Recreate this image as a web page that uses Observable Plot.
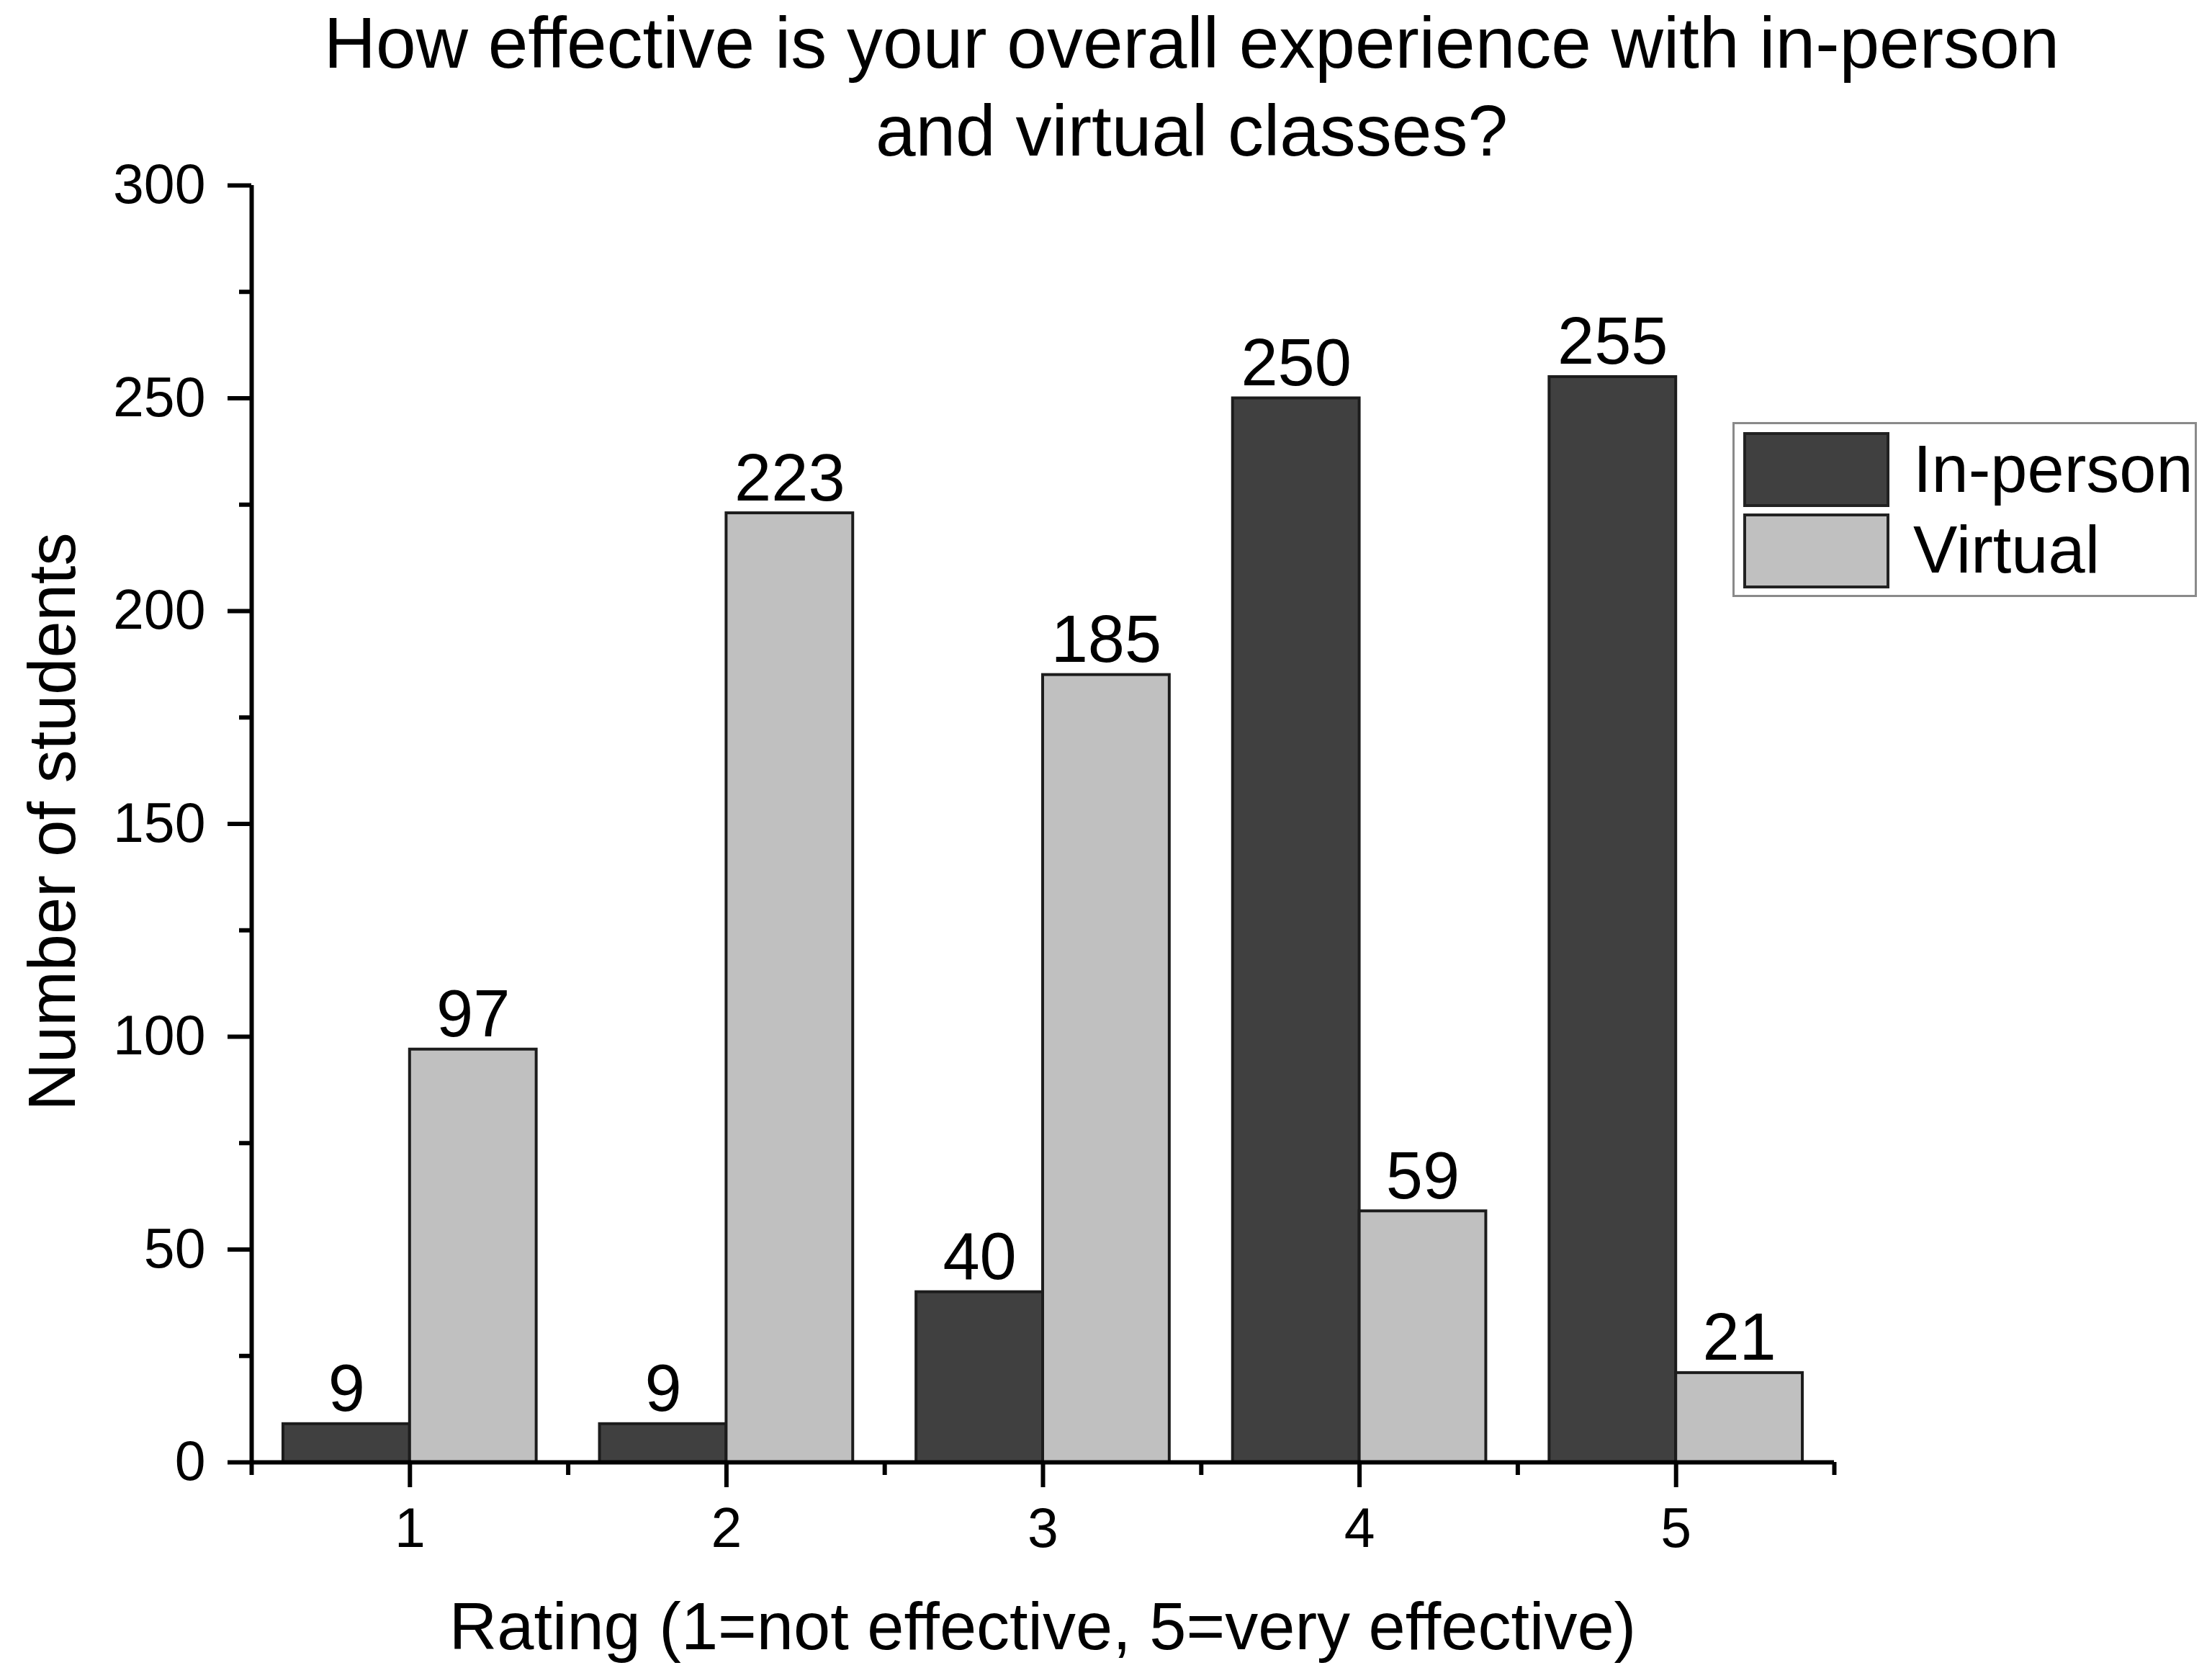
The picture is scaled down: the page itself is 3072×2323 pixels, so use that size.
<!DOCTYPE html>
<html>
<head>
<meta charset="utf-8">
<script src="https://cdn.jsdelivr.net/npm/d3@7"></script>
<script src="https://cdn.jsdelivr.net/npm/@observablehq/plot@0.6"></script>
<style>
  html, body { margin: 0; padding: 0; background: #fff; }
  #wrap { position: relative; width: 3072px; height: 2323px; font-family: "Liberation Sans", Arial, sans-serif; color: #000; overflow: hidden; }
  #wrap svg { position: absolute; left: 0; top: 0; }
  .title { position: absolute; left: 255px; top: -2px; width: 2800px; text-align: center; font-size: 100px; line-height: 122px; white-space: nowrap; }
  .xtitle { position: absolute; left: 48px; top: 2212px; width: 2800px; text-align: center; font-size: 92px; line-height: 92px; white-space: nowrap; }
  .ytitle { position: absolute; left: 72px; top: 1141px; width: 1200px; height: 92px; text-align: center; font-size: 92px; line-height: 92px; white-space: nowrap; transform: translate(-50%, -50%) rotate(-90deg); }
  .legend { position: absolute; left: 2406px; top: 586px; width: 639px; height: 237px; border: 3px solid #8a8a8a; background: #fff; }
  .legend .sw { position: absolute; left: 12px; width: 195px; height: 96px; border: 4px solid #222; }
  .legend .lb { position: absolute; left: 248px; font-size: 92px; line-height: 92px; white-space: nowrap; }
</style>
</head>
<body>
<div id="wrap"></div>
<script>
const titleLines = ["How effective is your overall experience with in-person", "and virtual classes?"];
const xTitle = "Rating (1=not effective, 5=very effective)";
const yTitle = "Number of students";
const ratings = [1, 2, 3, 4, 5];
const series = ["In-person", "Virtual"];
const inPerson = [9, 9, 40, 250, 255];
const virtual = [97, 223, 185, 59, 21];
const colors = ["#404040", "#c0c0c0"];
const yMajor = [0, 50, 100, 150, 200, 250, 300];
const yMinor = [25, 75, 125, 175, 225, 275];
const xMinor = [0.5, 1.5, 2.5, 3.5, 4.5, 5.5];
const xDomain = [0.5, 5.5];
const yDomain = [0, 300];
const barWidth = 0.4;

const rows = [];
ratings.forEach((r, i) => {
  rows.push({rating: r, series: series[0], value: inPerson[i], x1: r - barWidth, x2: r});
  rows.push({rating: r, series: series[1], value: virtual[i], x1: r, x2: r + barWidth});
});

const W = 3072, H = 2323;
const chart = Plot.plot({
  width: W,
  height: H,
  marginLeft: 349,
  marginRight: 525,
  marginTop: 257,
  marginBottom: 293,
  style: {fontFamily: '"Liberation Sans", Arial, sans-serif', background: "transparent", overflow: "visible", color: "#000"},
  x: {type: "linear", domain: xDomain},
  y: {domain: yDomain},
  color: {domain: series, range: colors},
  marks: [
    Plot.rectY(rows, {x1: "x1", x2: "x2", y1: 0, y2: "value", fill: "series", stroke: "#1c1c1c", strokeWidth: 4, inset: 0}),
    Plot.text(rows, {x: d => (d.x1 + d.x2) / 2, y: "value", text: d => String(d.value), lineAnchor: "bottom", dy: -18, fontSize: 92, fill: "#000"}),
    Plot.axisY({ticks: yMajor, tickSize: 33, tickPadding: 31, fontSize: 77, strokeWidth: 6, label: null, tickFormat: d => String(d)}),
    Plot.axisY({ticks: yMinor, tickSize: 17, strokeWidth: 6, label: null, tickFormat: () => ""}),
    Plot.axisX({ticks: ratings, tickSize: 35, tickPadding: 28, fontSize: 77, strokeWidth: 6, label: null, tickFormat: d => String(d)}),
    Plot.axisX({ticks: xMinor, tickSize: 18, strokeWidth: 6, label: null, tickFormat: () => ""}),
    Plot.ruleY([yDomain[0]], {stroke: "#000", strokeWidth: 6}),
    Plot.ruleX([xDomain[0]], {stroke: "#000", strokeWidth: 6})
  ]
});

const wrap = document.getElementById("wrap");
wrap.appendChild(chart);

const t = document.createElement("div");
t.className = "title";
t.innerHTML = titleLines.map(s => s.replace(/&/g, "&amp;")).join("<br>");
wrap.appendChild(t);

const xt = document.createElement("div");
xt.className = "xtitle";
xt.textContent = xTitle;
wrap.appendChild(xt);

const yt = document.createElement("div");
yt.className = "ytitle";
yt.textContent = yTitle;
wrap.appendChild(yt);

const lg = document.createElement("div");
lg.className = "legend";
series.forEach((s, i) => {
  const sw = document.createElement("div");
  sw.className = "sw";
  sw.style.top = (11 + i * 113) + "px";
  sw.style.background = colors[i];
  lg.appendChild(sw);
  const lb = document.createElement("div");
  lb.className = "lb";
  lb.style.top = (16 + i * 112) + "px";
  lb.textContent = s;
  lg.appendChild(lb);
});
wrap.appendChild(lg);
</script>
</body>
</html>
